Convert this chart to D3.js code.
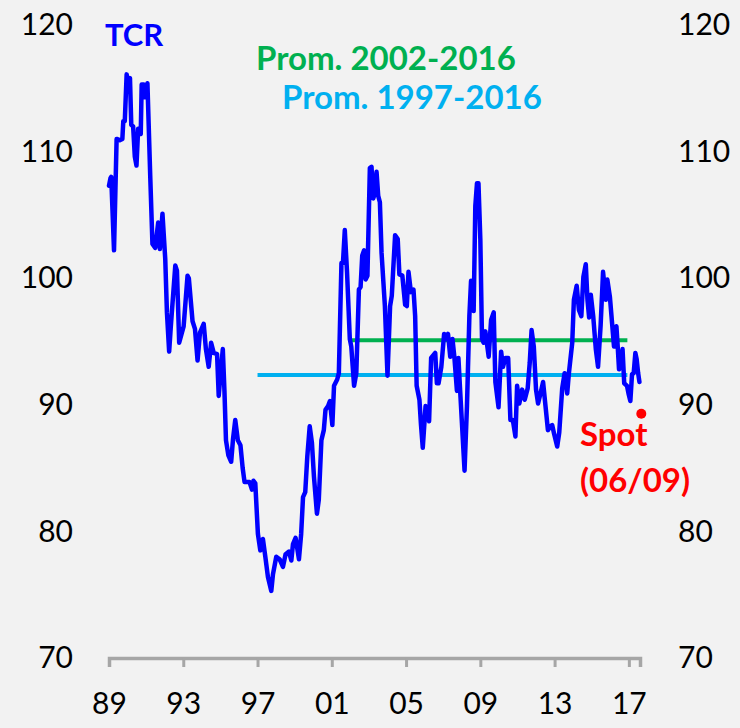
<!DOCTYPE html>
<html>
<head>
<meta charset="utf-8">
<script src="https://cdn.jsdelivr.net/npm/d3@7"></script>
<style>
  body { margin: 0; background: #f2f2f2; }
  text { font-family: Lato, "Open Sans", sans-serif; }
</style>
</head>
<body>
<div id="chart"></div>
<script>
// TCR series (decimal year, index value)
var tcrDate = [
  1989.00, 1989.08, 1989.12, 1989.27, 1989.41, 1989.58, 1989.72, 1989.77, 1989.85, 1989.95,
  1990.00, 1990.13, 1990.20, 1990.30, 1990.39, 1990.48, 1990.57, 1990.71, 1990.76, 1990.88,
  1990.95, 1991.07, 1991.22, 1991.34, 1991.49, 1991.65, 1991.74, 1991.88, 1992.03, 1992.12,
  1992.24, 1992.33, 1992.57, 1992.66, 1992.78, 1993.02, 1993.23, 1993.30, 1993.50, 1993.63,
  1993.77, 1993.90, 1994.10, 1994.22, 1994.37, 1994.50, 1994.64, 1994.82, 1994.91, 1995.04,
  1995.13, 1995.22, 1995.30, 1995.43, 1995.58, 1995.68, 1995.80, 1995.94, 1996.08, 1996.20,
  1996.30, 1996.57, 1996.70, 1996.78, 1996.88, 1997.02, 1997.15, 1997.29, 1997.42, 1997.56,
  1997.74, 1997.83, 1998.01, 1998.19, 1998.37, 1998.51, 1998.69, 1998.82, 1998.91, 1999.05,
  1999.23, 1999.35, 1999.45, 1999.57, 1999.68, 1999.81, 1999.93, 2000.04, 2000.20, 2000.30,
  2000.44, 2000.57, 2000.66, 2000.80, 2000.90, 2001.03, 2001.12, 2001.29, 2001.38, 2001.52,
  2001.60, 2001.70, 2001.82, 2001.97, 2002.05, 2002.20, 2002.32, 2002.46, 2002.55, 2002.64,
  2002.74, 2002.82, 2002.92, 2003.05, 2003.14, 2003.23, 2003.32, 2003.41, 2003.50, 2003.59,
  2003.68, 2003.86, 2004.00, 2004.14, 2004.23, 2004.41, 2004.55, 2004.64, 2004.80, 2004.95,
  2005.04, 2005.13, 2005.26, 2005.40, 2005.49, 2005.57, 2005.72, 2005.80, 2005.90, 2006.05,
  2006.12, 2006.24, 2006.35, 2006.57, 2006.66, 2006.75, 2006.90, 2007.05, 2007.20, 2007.26,
  2007.38, 2007.50, 2007.60, 2007.74, 2007.82, 2007.91, 2008.15, 2008.28, 2008.41, 2008.50,
  2008.64, 2008.73, 2008.82, 2008.90, 2009.00, 2009.09, 2009.18, 2009.27, 2009.45, 2009.58,
  2009.72, 2009.81, 2009.98, 2010.12, 2010.22, 2010.35, 2010.50, 2010.62, 2010.75, 2010.89,
  2010.98, 2011.10, 2011.25, 2011.39, 2011.55, 2011.66, 2011.76, 2011.88, 2012.00, 2012.11,
  2012.24, 2012.38, 2012.51, 2012.64, 2012.78, 2012.87, 2012.96, 2013.14, 2013.25, 2013.41,
  2013.54, 2013.68, 2013.77, 2013.95, 2014.04, 2014.19, 2014.31, 2014.44, 2014.55, 2014.68,
  2014.77, 2014.86, 2014.95, 2015.08, 2015.22, 2015.34, 2015.48, 2015.61, 2015.76, 2015.84,
  2015.98, 2016.11, 2016.20, 2016.33, 2016.40, 2016.47, 2016.57, 2016.66, 2016.75, 2016.90,
  2016.98, 2017.08, 2017.17, 2017.26, 2017.35, 2017.42, 2017.50, 2017.57
]
var tcrValue = [
  107.3, 107.9, 108.0, 102.2, 111.0, 110.9, 111.0, 112.4, 112.4, 116.1,
  115.5, 115.8, 112.1, 112.0, 109.6, 108.9, 111.8, 111.4, 115.3, 115.3,
  114.3, 115.4, 108.1, 102.7, 102.4, 104.4, 102.3, 105.1, 101.5, 97.3,
  94.2, 96.2, 101.0, 100.6, 94.9, 96.2, 100.2, 100.0, 96.6, 96.0,
  93.5, 95.7, 96.4, 94.4, 93.0, 94.9, 94.1, 94.0, 90.7, 93.0,
  94.4, 91.0, 87.2, 86.0, 85.5, 87.3, 88.8, 87.2, 86.8, 85.0,
  83.9, 83.9, 83.3, 84.0, 83.8, 79.8, 78.5, 79.4, 78.0, 76.4,
  75.3, 76.6, 78.0, 77.8, 77.2, 78.2, 78.4, 77.7, 79.0, 79.5,
  77.8, 79.8, 82.7, 83.1, 85.9, 88.3, 87.0, 84.3, 81.4, 82.5,
  87.2, 88.0, 89.6, 89.9, 90.3, 88.4, 91.5, 92.0, 92.5, 101.2,
  101.2, 103.8, 100.5, 95.2, 94.6, 91.5, 92.5, 99.1, 99.3, 101.8,
  102.2, 99.9, 100.2, 108.7, 108.8, 106.3, 106.7, 108.4, 106.5, 106.0,
  102.0, 97.8, 92.3, 97.8, 98.6, 103.4, 103.1, 100.3, 100.2, 97.9,
  97.8, 100.5, 98.9, 99.1, 97.0, 91.5, 90.4, 88.5, 86.6, 89.9,
  89.6, 88.7, 93.7, 94.1, 91.7, 91.7, 93.0, 95.6, 95.2, 95.6,
  93.8, 95.2, 93.8, 91.1, 93.7, 91.2, 84.8, 89.9, 97.0, 99.8,
  97.4, 105.7, 107.5, 107.5, 103.1, 95.2, 94.9, 95.8, 93.8, 96.7,
  97.3, 91.8, 89.8, 94.2, 93.0, 93.7, 93.7, 88.8, 88.8, 87.5,
  91.5, 90.1, 91.2, 90.4, 91.3, 93.3, 95.9, 94.6, 91.2, 90.1,
  90.9, 91.8, 89.9, 88.0, 88.3, 88.4, 87.8, 86.7, 87.8, 91.3,
  92.5, 90.9, 92.5, 94.9, 98.3, 99.4, 97.5, 97.0, 100.1, 101.1,
  98.3, 96.9, 98.7, 97.0, 94.4, 93.0, 96.3, 100.5, 98.3, 99.9,
  98.5, 96.2, 94.6, 96.2, 94.6, 92.8, 93.0, 94.4, 91.7, 91.5,
  90.9, 90.3, 92.4, 92.5, 94.1, 93.6, 92.5, 91.8
]

// averages: [label, from, to, value]
var avgLabels = ["Prom. 2002-2016", "Prom. 1997-2016"]
var avgFrom = [2002.0, 1997.0]
var avgTo = [2016.92, 2016.92]
var avgValue = [95.1, 92.35]
var avgColors = ["#00b050", "#00b0f0"]

// spot point
var spotDate = 2017.67
var spotValue = 89.3

var yTicks = [70, 80, 90, 100, 110, 120]
var xTicks = [1989, 1993, 1997, 2001, 2005, 2009, 2013, 2017]

var width = 740, height = 728

var svg = d3.select("#chart")
  .append("svg")
    .attr("width", width)
    .attr("height", height)

svg.append("rect")
    .attr("width", width)
    .attr("height", height)
    .style("fill", "#f2f2f2")

var x = d3.scaleLinear()
  .domain([1989, 2017.6])
  .range([109, 640])

var y = d3.scaleLinear()
  .domain([70, 120])
  .range([658, 25])

// x axis
var xAxis = svg.append("g")
  .attr("transform", "translate(0," + y(70) + ")")
  .call(d3.axisBottom(x)
    .tickValues(xTicks)
    .tickSizeOuter(0)
    .tickSize(9)
    .tickPadding(26)
    .tickFormat(function(d) { return d3.format("02d")(d % 100) }))
xAxis.select(".domain").attr("stroke", "#a6a6a6").attr("stroke-width", 3.5)
xAxis.selectAll(".tick line").attr("stroke", "#a6a6a6").attr("stroke-width", 3)
xAxis.selectAll("text").style("font-size", "30px").attr("fill", "#000")

// left y labels
var yLeft = svg.append("g")
  .attr("transform", "translate(73,0)")
  .call(d3.axisLeft(y).tickValues(yTicks).tickSize(0).tickPadding(0))
yLeft.select(".domain").remove()
yLeft.selectAll("text").style("font-size", "30px").attr("fill", "#000")

// right y labels
var yRight = svg.append("g")
  .attr("transform", "translate(678,0)")
  .call(d3.axisRight(y).tickValues(yTicks).tickSize(0).tickPadding(0))
yRight.select(".domain").remove()
yRight.selectAll("text").style("font-size", "30px").attr("fill", "#000")

// average lines
avgValue.forEach(function(v, i) {
  svg.append("line")
    .attr("x1", x(avgFrom[i]))
    .attr("x2", x(avgTo[i]))
    .attr("y1", y(v))
    .attr("y2", y(v))
    .attr("stroke", avgColors[i])
    .attr("stroke-width", 4)
})

// TCR line
var line = d3.line()
  .x(function(d, i) { return x(tcrDate[i]) })
  .y(function(d) { return y(d) })

svg.append("path")
  .datum(tcrValue)
  .attr("d", line)
  .attr("fill", "none")
  .attr("stroke", "#0000ff")
  .attr("stroke-width", 4.5)
  .attr("stroke-linejoin", "round")
  .attr("stroke-linecap", "round")

// spot
svg.append("circle")
  .attr("cx", x(spotDate))
  .attr("cy", y(spotValue))
  .attr("r", 5)
  .style("fill", "#ff0000")

// labels
svg.append("text")
  .attr("x", 105).attr("y", 46)
  .text("TCR")
  .style("font-size", "31px").style("font-weight", "bold").attr("fill", "#0000ff")

svg.append("text")
  .attr("x", 256).attr("y", 70)
  .text(avgLabels[0])
  .style("font-size", "33px").style("font-weight", "bold").attr("fill", avgColors[0])

svg.append("text")
  .attr("x", 282).attr("y", 109)
  .text(avgLabels[1])
  .style("font-size", "33px").style("font-weight", "bold").attr("fill", avgColors[1])

svg.append("text")
  .attr("x", 580).attr("y", 446)
  .text("Spot")
  .style("font-size", "33px").style("font-weight", "bold").attr("fill", "#ff0000")

svg.append("text")
  .attr("x", 580).attr("y", 492)
  .text("(06/09)")
  .style("font-size", "33px").style("font-weight", "bold").attr("fill", "#ff0000")
</script>
</body>
</html>
